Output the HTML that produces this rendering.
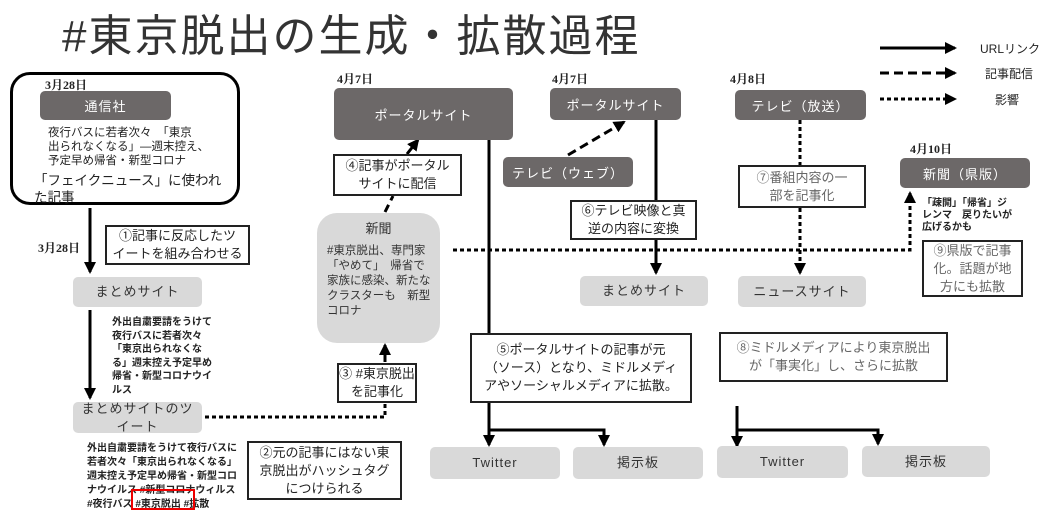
<!DOCTYPE html>
<html><head><meta charset="utf-8"><style>
body{margin:0;width:1050px;height:523px;background:#fff;position:relative;overflow:hidden;font-family:"Liberation Sans","Noto Sans CJK JP",sans-serif;color:#222}
.a{position:absolute;white-space:nowrap}
.dk{position:absolute;background:#6c6868;color:#fff;border-radius:5px;display:flex;align-items:center;justify-content:center;font-size:13px;letter-spacing:1px}
.lt{position:absolute;background:#d9d9d9;color:#333;border-radius:5px;display:flex;align-items:center;justify-content:center;font-size:13px;letter-spacing:1px;text-align:center;line-height:18px}
.bx{position:absolute;border:2px solid #222;background:#fff;display:flex;align-items:center;justify-content:center;text-align:center;font-size:13px;line-height:18px;box-sizing:border-box;white-space:nowrap}
.d{position:absolute;font-family:"Liberation Serif","Noto Serif CJK SC",serif;font-size:12px;font-weight:bold}
.s{position:absolute;font-size:10px;line-height:13.5px;font-weight:bold;white-space:nowrap}
</style></head><body>
<div class="a" style="left:62px;top:0px;font-size:44px;color:#333;letter-spacing:2px">#東京脱出の生成・拡散過程</div>
<svg class="a" style="left:0;top:0" width="1050" height="523">
<defs><marker id="n" markerWidth="12" markerHeight="12" refX="10" refY="6" orient="auto" markerUnits="userSpaceOnUse"><path d="M0,0L12,6L0,12z" fill="#000"/></marker></defs>
<g stroke="#000" fill="none" stroke-width="3">
<line x1="880" y1="48" x2="955" y2="48" marker-end="url(#n)"/>
<line x1="880" y1="73" x2="955" y2="73" stroke-dasharray="9,5" marker-end="url(#n)"/>
<line x1="880" y1="99" x2="955" y2="99" stroke-dasharray="4,3" marker-end="url(#n)"/>
<line x1="90" y1="208" x2="90" y2="272" marker-end="url(#n)"/>
<line x1="90" y1="310" x2="90" y2="398" marker-end="url(#n)"/>
<polyline points="205,417 385,417 385,404" stroke-dasharray="4,3"/>
<line x1="385" y1="362" x2="385" y2="345" marker-end="url(#n)"/>
<line x1="385" y1="212" x2="393" y2="196" stroke-dasharray="8,5"/>
<line x1="407" y1="154" x2="418" y2="140" marker-end="url(#n)"/>
<line x1="568" y1="155" x2="624" y2="122" stroke-dasharray="9,5" marker-end="url(#n)"/>
<line x1="489" y1="140" x2="489" y2="333"/>
<polyline points="489,403 489,445" marker-end="url(#n)"/>
<polyline points="489,430 604,430 604,445" marker-end="url(#n)"/>
<line x1="656" y1="120" x2="656" y2="200"/>
<line x1="656" y1="240" x2="656" y2="273" marker-end="url(#n)"/>
<line x1="737" y1="406" x2="737" y2="446" marker-end="url(#n)"/>
<polyline points="737,430 878,430 878,444" marker-end="url(#n)"/>
<polyline points="453,250 910,250 910,193" stroke-dasharray="4,3" marker-end="url(#n)"/>
<line x1="800" y1="120" x2="800" y2="165" stroke-dasharray="4,3"/>
<line x1="800" y1="208" x2="800" y2="273" stroke-dasharray="4,3" marker-end="url(#n)"/>
</g></svg>
<div class="a" style="left:980px;top:40px;font-size:12px">URLリンク</div>
<div class="a" style="left:985px;top:65px;font-size:12px">記事配信</div>
<div class="a" style="left:995px;top:91px;font-size:12px">影響</div>

<div class="a" style="left:10px;top:72px;width:230px;height:133px;border:3px solid #000;border-radius:20px;box-sizing:border-box"></div>
<div class="d" style="left:45px;top:76px">3月28日</div>
<div class="dk" style="left:40px;top:91px;width:131px;height:29px">通信社</div>
<div class="a" style="left:48px;top:126px;font-size:11.5px;line-height:14px">夜行バスに若者次々　「東京<br>出られなくなる」―週末控え、<br>予定早め帰省・新型コロナ</div>
<div class="a" style="left:34px;top:172px;font-size:13.5px;line-height:17px;letter-spacing:0">「フェイクニュース」に使われ<br>た記事</div>
<div class="d" style="left:38px;top:239px">3月28日</div>
<div class="bx" style="left:105px;top:225px;width:145px;height:40px">①記事に反応したツ<br>イートを組み合わせる</div>
<div class="lt" style="left:73px;top:277px;width:129px;height:30px">まとめサイト</div>
<div class="s" style="left:112px;top:316px">外出自粛要請をうけて<br>夜行バスに若者次々<br>「東京出られなくな<br>る」週末控え予定早め<br>帰省・新型コロナウイ<br>ルス</div>
<div class="lt" style="left:73px;top:402px;width:129px;height:31px">まとめサイトのツ<br>イート</div>
<div class="s" style="left:87px;top:442px;line-height:14px">外出自粛要請をうけて夜行バスに<br>若者次々「東京出られなくなる」<br>週末控え予定早め帰省・新型コロ<br>ナウイルス #新型コロナウィルス<br>#夜行バス #東京脱出 #拡散</div>
<div class="a" style="left:131px;top:489px;width:64px;height:21px;border:2px solid #e00;box-sizing:border-box"></div>
<div class="bx" style="left:247px;top:441px;width:155px;height:59px">②元の記事にはない東<br>京脱出がハッシュタグ<br>につけられる</div>

<div class="d" style="left:337px;top:70px">4月7日</div>
<div class="dk" style="left:334px;top:88px;width:179px;height:52px">ポータルサイト</div>
<div class="bx" style="left:333px;top:154px;width:129px;height:42px">④記事がポータル<br>サイトに配信</div>
<div class="lt" style="left:317px;top:213px;width:123px;height:130px;border-radius:20px;display:block;text-align:left;font-size:11.5px;line-height:15px;letter-spacing:0">
<div style="text-align:center;margin-top:8px;font-size:13px">新聞</div>
<div style="margin:8px 0 0 10px;white-space:nowrap">#東京脱出、専門家<br>「やめて」　帰省で<br>家族に感染、新たな<br>クラスターも　新型<br>コロナ</div></div>
<div class="bx" style="left:337px;top:363px;width:80px;height:40px">③ #東京脱出<br>を記事化</div>

<div class="d" style="left:552px;top:70px">4月7日</div>
<div class="dk" style="left:550px;top:88px;width:131px;height:32px">ポータルサイト</div>
<div class="dk" style="left:503px;top:157px;width:130px;height:30px">テレビ（ウェブ）</div>
<div class="bx" style="left:570px;top:200px;width:127px;height:40px">⑥テレビ映像と真<br>逆の内容に変換</div>
<div class="lt" style="left:580px;top:276px;width:128px;height:30px">まとめサイト</div>
<div class="bx" style="left:470px;top:333px;width:222px;height:70px">⑤ポータルサイトの記事が元<br>（ソース）となり、ミドルメディ<br>アやソーシャルメディアに拡散。</div>
<div class="lt" style="left:430px;top:447px;width:130px;height:32px">Twitter</div>
<div class="lt" style="left:573px;top:447px;width:130px;height:32px">掲示板</div>

<div class="d" style="left:730px;top:70px">4月8日</div>
<div class="dk" style="left:735px;top:90px;width:131px;height:30px">テレビ（放送）</div>
<div class="bx" style="left:738px;top:165px;width:128px;height:43px;color:#666">⑦番組内容の一<br>部を記事化</div>
<div class="lt" style="left:738px;top:276px;width:128px;height:31px">ニュースサイト</div>
<div class="bx" style="left:719px;top:332px;width:229px;height:50px;color:#666">⑧ミドルメディアにより東京脱出<br>が「事実化」し、さらに拡散</div>
<div class="lt" style="left:717px;top:446px;width:131px;height:32px">Twitter</div>
<div class="lt" style="left:862px;top:446px;width:128px;height:31px">掲示板</div>

<div class="d" style="left:910px;top:140px">4月10日</div>
<div class="dk" style="left:900px;top:158px;width:130px;height:30px">新聞（県版）</div>
<div class="s" style="left:922px;top:198px;font-size:10px;line-height:12px">「疎開」「帰省」ジ<br>レンマ　戻りたいが<br>広げるかも</div>
<div class="bx" style="left:922px;top:240px;width:101px;height:57px;color:#666">⑨県版で記事<br>化。話題が地<br>方にも拡散</div>
</body></html>
